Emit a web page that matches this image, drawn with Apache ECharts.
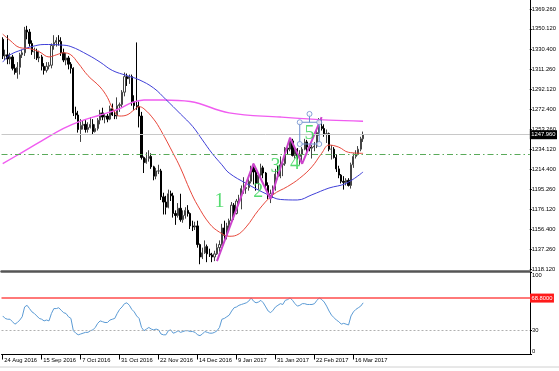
<!DOCTYPE html>
<html><head><meta charset="utf-8">
<script src="https://cdn.jsdelivr.net/npm/echarts@6/dist/echarts.min.js"></script>
<style>html,body{margin:0;padding:0;background:#fff}#c{width:559px;height:371px}</style>
</head><body><div id="c"></div>
<script>
// ---- categories (trading days) ----
const tradingDays = [
  ['Aug', 2016, [24,25,26,29,30,31]],
  ['Sep', 2016, [1,2,5,6,7,8,9,12,13,14,15,16,19,20,21,22,23,26,27,28,29,30]],
  ['Oct', 2016, [3,4,5,6,7,10,11,12,13,14,17,18,19,20,21,24,25,26,27,28,31]],
  ['Nov', 2016, [1,2,3,4,7,8,9,10,11,14,15,16,17,18,21,22,23,24,25,28,29,30]],
  ['Dec', 2016, [1,2,5,6,7,8,9,12,13,14,15,16,19,20,21,22,23,27,28,29,30]],
  ['Jan', 2017, [3,4,5,6,9,10,11,12,13,16,17,18,19,20,23,24,25,26,27,30,31]],
  ['Feb', 2017, [1,2,3,6,7,8,9,10,13,14,15,16,17,20,21,22,23,24,27,28]],
  ['Mar', 2017, [1,2,3,6,7,8,9,10,13,14,15,16,17,20,21,22]]
];

// ---- OHLC ----
const open = [1340,1324,1325,1321,1323,1312,1308,1313,1325,1327,1349,1347,1336,1328,1328,1322,1323,1314,1310,1314,
 1315,1334,1337,1339,1338,1327,1320,1322,1316,1312,1269,1267,1253,1257,1258,1253,1255,1258,1251,1254,
 1262,1269,1265,1266,1263,1273,1267,1266,1276,1277,1289,1304,1302,1304,1280,1276,1275,1266,1226,1221,
 1225,1227,1217,1208,1213,1213,1188,1183,1178,1191,1189,1172,1170,1177,1166,1170,1175,1172,1160,1159,
 1160,1142,1130,1134,1140,1133,1132,1130,1133,1139,1142,1158,1151,1160,1165,1180,1172,1184,1185,1196,
 1196,1197,1203,1216,1212,1201,1209,1216,1211,1199,1189,1191,1196,1210,1208,1219,1220,1235,1234,1242,
 1228,1234,1227,1229,1234,1241,1236,1235,1236,1237,1250,1256,1254,1249,1249,1234,1234,1226,1215,1209,
 1203,1202,1204,1199,1219,1227,1229,1234,1244];
const high = [1342,1330,1344,1327,1325,1316,1318,1327,1330,1352,1353,1350,1339,1332,1331,1329,1325,1317,1318,1318,
 1336,1344,1342,1344,1342,1331,1327,1324,1318,1313,1275,1271,1263,1262,1262,1260,1265,1263,1258,1264,
 1272,1274,1268,1268,1276,1278,1271,1284,1279,1291,1308,1307,1306,1306,1286,1337,1280,1270,1227,1231,
 1233,1230,1218,1216,1219,1215,1192,1189,1195,1194,1192,1175,1182,1191,1175,1178,1180,1173,1165,1164,
 1165,1143,1139,1146,1142,1138,1134,1136,1143,1146,1162,1165,1163,1167,1183,1182,1186,1190,1199,1207,
 1200,1205,1218,1220,1214,1211,1220,1218,1212,1202,1195,1199,1215,1218,1227,1224,1236,1238,1245,1244,
 1236,1235,1233,1236,1244,1243,1238,1238,1241,1252,1264,1263,1258,1253,1250,1238,1236,1229,1218,1210,
 1208,1206,1206,1221,1230,1233,1237,1246,1251];
const low = [1321,1320,1316,1316,1310,1306,1302,1306,1322,1324,1340,1333,1325,1321,1320,1318,1310,1306,1308,1311,
 1312,1330,1333,1334,1324,1318,1315,1311,1307,1266,1263,1250,1241,1253,1250,1250,1254,1248,1250,1252,
 1258,1262,1259,1260,1262,1266,1263,1263,1270,1274,1285,1295,1297,1276,1272,1272,1255,1224,1211,1220,
 1222,1215,1204,1205,1210,1185,1171,1171,1177,1184,1168,1161,1168,1164,1163,1167,1169,1157,1155,1156,
 1139,1123,1128,1133,1125,1130,1125,1126,1132,1135,1141,1146,1147,1156,1163,1166,1171,1180,1176,1191,
 1191,1194,1201,1200,1194,1195,1207,1206,1196,1186,1182,1187,1194,1205,1206,1208,1218,1229,1232,1227,
 1225,1224,1219,1221,1233,1231,1232,1225,1232,1235,1247,1252,1246,1240,1232,1224,1225,1212,1206,1201,
 1195,1199,1198,1196,1216,1225,1228,1232,1241];
const close = [1324,1325,1321,1323,1312,1308,1313,1325,1327,1349,1347,1336,1328,1328,1322,1323,1314,1310,1314,1315,
 1334,1337,1339,1338,1327,1320,1322,1316,1312,1269,1267,1253,1257,1258,1253,1255,1258,1251,1254,1262,
 1269,1265,1266,1263,1273,1267,1266,1276,1277,1289,1304,1302,1304,1280,1276,1275,1266,1226,1221,1225,
 1227,1217,1208,1213,1213,1188,1183,1178,1191,1189,1172,1170,1177,1166,1170,1175,1172,1160,1159,1160,
 1142,1130,1134,1140,1133,1132,1130,1133,1139,1142,1158,1151,1160,1165,1180,1172,1184,1185,1196,1196,
 1197,1203,1216,1212,1201,1209,1216,1211,1199,1189,1191,1196,1210,1208,1219,1220,1235,1234,1242,1228,
 1234,1227,1229,1234,1241,1236,1235,1236,1237,1250,1256,1254,1249,1249,1234,1234,1226,1215,1209,1203,
 1202,1204,1199,1219,1227,1229,1234,1244,1247.96];

// ---- moving averages: [bar index, price] ----
const maRed = [[0,1345],[3,1339],[7,1332],[11,1331],[15,1328],[19,1323],[22,1325],[25,1327],[28,1325],[31,1317],
 [35,1305],[40,1294],[43,1284],[45,1274],[48,1266],[51,1267],[54,1272],[56,1275],[58,1273],[62,1263],[65,1252],
 [70,1230],[73,1216],[77,1194],[80,1180],[85,1162],[89,1154],[93,1150],[96,1151],[100,1159],[105,1175],[111,1190],
 [117,1198],[122,1206],[127,1217],[131,1230],[134,1238],[138,1236],[142,1231],[148,1230]];
const maBlue = [[0,1318],[3,1325],[8,1330],[12,1333],[17,1335],[24,1334.5],[28,1333],[35,1325],[40,1318],[45,1310],
 [51,1305],[56,1301],[62,1293],[67,1282],[73,1268],[78,1256],[82,1243],[86,1230],[90,1219],[93,1211],[100,1201],
 [109,1190],[114,1185.5],[121,1185],[127,1190],[134,1196.5],[141,1201],[148,1212]];
const maMagenta = [[0,1220],[8,1231],[16,1242],[25,1254],[32,1261],[40,1267],[48,1273],[53,1279],[58,1281.5],
 [66,1281.5],[77,1280],[93,1269],[114,1265],[134,1262],[148,1261]];

// ---- RSI ----
const rsi = [47,44,43,43,40,37,39,42,46,58, 60,56,52,50,47,44,43,41,42,41, 50,56,56,57,54,51,50,46,44,29,
 26,24,25,26,27,27,29,30,33,38, 41,40,39,39,42,43,44,50,55,58, 62,63,60,55,52,47,44,33,29,31,
 33,31,30,31,30,25,24,24,29,30, 26,27,29,27,28,29,29,28,28,27, 24,23,25,28,27,26,26,27,29,33,
 43,44,46,48,53,57,58,60,61,62, 63,65,69,65,63,64,66,63,58,53, 51,54,58,60,62,61,66,67,69,66,
 62,59,60,62,62,61,61,61,62,66, 69,67,64,59,53,48,45,42,40,37, 38,37,36,47,52,55,57,59,63];

// ---- levels, ticks, drawings ----
const priceTicks = [1369.26,1350.12,1330.40,1311.26,1292.12,1272.40,1253.26,1234.12,1214.40,1195.26,1176.12,1156.40,1137.26,1118.12];
const rsiTicks = [0, 30, 100];
const currentPrice = 1247.96;
const greenLevel = 1229.1;
const rsiUpper = 68.8;
const rsiLower = 30;
const waveLine = [[88,1126],[103,1220],[110,1186],[118,1245],[123,1220],[131,1265]];
const waveLabels = [['1',89,1183],['2',105,1193],['3',112,1217],['4',120,1220],['5',126,1249]];
const selBox = [[122,1260],[130,1260],[130,1239],[122,1239],[122,1260]];
const selHandles = [[122,1260],[130,1260],[122,1239],[130,1239],[126,1268]];
const selStem = [[126,1260],[126,1268]];

// ---- build ----
const dates = [];
tradingDays.forEach(([m, y, ds]) => ds.forEach(d => dates.push(d + ' ' + m + ' ' + y)));
const SLOTS = 217;
const cats = dates.concat(new Array(SLOTS - dates.length).fill(''));
const candles = open.map((o, i) => [o, close[i], low[i], high[i]]);
const every = (i, v) => i % 16 === 0 && v !== '';
const FS = 5.8;
const FONT = 'Liberation Sans';

const chart = echarts.init(document.getElementById('c'), null, {renderer: 'canvas'});
chart.setOption({
  animation: false,
  backgroundColor: '#ffffff',
  textStyle: {fontFamily: FONT},
  grid: [
    {left: 1.5, top: 0, width: 528.5, height: 271},
    {left: 1.5, top: 272.5, width: 528.5, height: 82}
  ],
  xAxis: [
    {type: 'category', gridIndex: 0, data: cats, boundaryGap: true,
     axisLine: {show: true, onZero: false, lineStyle: {color: '#555', width: 2.5}},
     axisTick: {show: false}, axisLabel: {show: false}, splitLine: {show: false}},
    {type: 'category', gridIndex: 1, data: cats, boundaryGap: true,
     axisLine: {show: true, onZero: false, lineStyle: {color: '#000', width: 1}},
     axisTick: {show: true, alignWithLabel: true, interval: every, length: 5, lineStyle: {color: '#000'}},
     axisLabel: {show: true, interval: every, align: 'left', fontSize: FS, color: '#000', margin: 3, padding: [0,0,0,1.5], fontFamily: FONT},
     splitLine: {show: false}}
  ],
  yAxis: [
    {type: 'value', gridIndex: 0, position: 'right', min: 1116.48, max: 1377.94,
     axisLine: {show: true, onZero: false, lineStyle: {color: '#000', width: 1}},
     axisTick: {show: true, customValues: priceTicks, length: 2, lineStyle: {color: '#000'}},
     axisLabel: {show: true, customValues: priceTicks, formatter: v => Number(v).toFixed(3), fontSize: FS, color: '#000', margin: 2, fontFamily: FONT},
     splitLine: {show: false}},
    {type: 'value', gridIndex: 1, position: 'right', min: 0, max: 100,
     axisLine: {show: true, onZero: false, lineStyle: {color: '#000', width: 1}},
     axisTick: {show: true, customValues: rsiTicks, length: 2, lineStyle: {color: '#000'}},
     axisLabel: {show: true, customValues: rsiTicks, fontSize: FS, color: '#000', margin: 2, fontFamily: FONT,
       verticalAlignMinLabel: 'bottom', verticalAlignMaxLabel: 'top'},
     splitLine: {show: false}}
  ],
  series: [
    {type: 'candlestick', xAxisIndex: 0, yAxisIndex: 0, data: candles, barWidth: 1.7, z: 2,
     itemStyle: {color: '#ffffff', color0: '#000000', borderColor: '#444444', borderColor0: '#000000', borderWidth: 1},
     markLine: {silent: true, symbol: 'none', animation: false,
       data: [
         {yAxis: currentPrice, lineStyle: {color: '#c8c8c8', type: 'solid', width: 1},
          label: {show: true, position: 'end', distance: 0, formatter: () => currentPrice.toFixed(3),
                  backgroundColor: '#000', color: '#fff', fontSize: FS, padding: [1.5, 1.5], fontFamily: FONT}},
         {yAxis: greenLevel, lineStyle: {color: '#5aaa5a', type: [6, 3, 1.5, 3], width: 1},
          label: {show: false}}
       ]}},
    {type: 'line', xAxisIndex: 0, yAxisIndex: 0, data: maMagenta, showSymbol: false, smooth: 0.4, z: 3,
     lineStyle: {color: '#f05cf0', width: 1.4}},
    {type: 'line', xAxisIndex: 0, yAxisIndex: 0, data: maBlue, showSymbol: false, smooth: 0.4, z: 3,
     lineStyle: {color: '#4040d8', width: 1}},
    {type: 'line', xAxisIndex: 0, yAxisIndex: 0, data: maRed, showSymbol: false, smooth: 0.4, z: 3,
     lineStyle: {color: '#e8483c', width: 1}},
    {type: 'line', xAxisIndex: 0, yAxisIndex: 0, data: waveLine, showSymbol: false, z: 4,
     lineStyle: {color: '#cc44cc', width: 2}},
    {type: 'line', xAxisIndex: 0, yAxisIndex: 0, data: selBox, showSymbol: false, z: 5,
     lineStyle: {color: '#6a8ccc', width: 1}},
    {type: 'line', xAxisIndex: 0, yAxisIndex: 0, data: selStem, showSymbol: false, z: 5,
     lineStyle: {color: '#6a8ccc', width: 1}},
    {type: 'scatter', xAxisIndex: 0, yAxisIndex: 0, data: selHandles, symbol: 'circle', symbolSize: 5, z: 6,
     itemStyle: {color: '#ffffff', borderColor: '#6a8ccc', borderWidth: 1}},
    {type: 'scatter', xAxisIndex: 0, yAxisIndex: 0, symbolSize: 0, z: 7,
     data: waveLabels.map(([n, x, y]) => ({name: n, value: [x, y]})),
     label: {show: true, position: 'inside', formatter: '{b}', fontFamily: 'Liberation Serif', fontSize: 20, color: '#2bd34c'}},
    {type: 'line', xAxisIndex: 1, yAxisIndex: 1, data: rsi, showSymbol: false, z: 3,
     lineStyle: {color: '#5b9bd5', width: 1},
     markLine: {silent: true, symbol: 'none', animation: false,
       data: [
         {yAxis: rsiUpper, lineStyle: {color: '#ff4d4d', type: 'solid', width: 1.5},
          label: {show: true, position: 'end', distance: 0, formatter: () => rsiUpper.toFixed(4),
                  backgroundColor: '#ff1a1a', color: '#fff', fontSize: FS, padding: [1.5, 1.5], fontFamily: FONT}},
         {yAxis: rsiLower, lineStyle: {color: '#b0b0b0', type: [2, 2], width: 1}, label: {show: false}}
       ]}}
  ],
  graphic: [
    {type: 'line', shape: {x1: 0, y1: 367, x2: 559, y2: 367}, style: {stroke: '#d0d0d0', lineWidth: 1}, silent: true}
  ]
});
</script>
</body></html>
